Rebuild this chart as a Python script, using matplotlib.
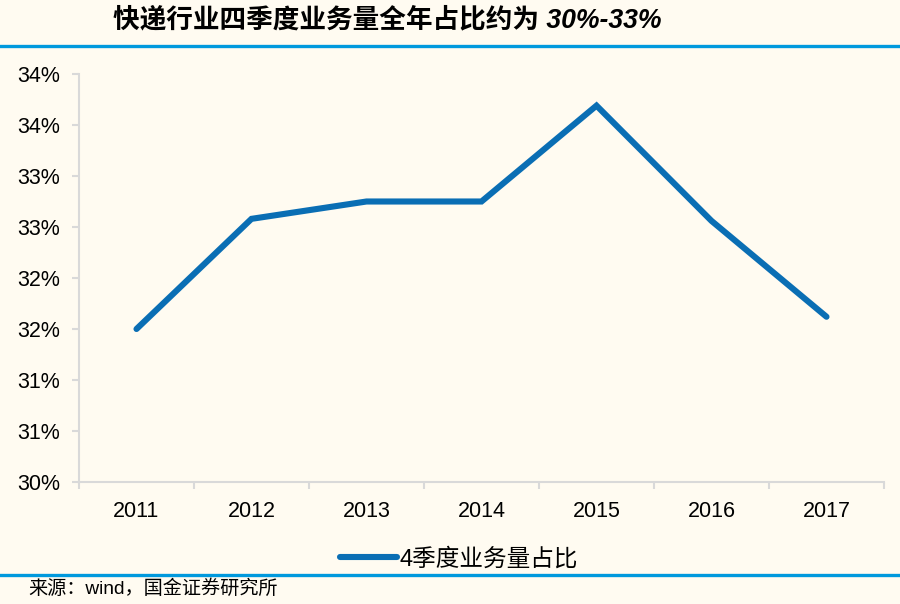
import matplotlib
matplotlib.use("Agg")
import matplotlib.pyplot as plt
import numpy as np

years = ["2011", "2012", "2013", "2014", "2015", "2016", "2017"]
share = [31.50, 32.58, 32.75, 32.75, 33.69, 32.56, 31.62]
y_ticks = [30.0, 30.5, 31.0, 31.5, 32.0, 32.5, 33.0, 33.5, 34.0]
y_tick_labels = ["30%", "31%", "31%", "32%", "32%", "33%", "33%", "34%", "34%"]
title = "快递行业四季度业务量全年占比约为 30%-33%"
series_name = "4季度业务量占比"
source = "来源：wind，国金证券研究所"

BG = "#FFFBF1"
LINE = "#0A6EB4"
RULE = "#0099DD"
SPINE = "#D9D9D9"
FAM = ["Liberation Sans", "Noto Sans CJK SC", "DejaVu Sans"]
plt.rcParams["font.family"] = FAM

fig = plt.figure(figsize=(9, 6.04), dpi=100, facecolor=BG)
ax = fig.add_axes([79/900, 1-482/604, (884-79)/900, (482-74)/604])
ax.set_facecolor(BG)

x = np.arange(len(years))
ax.plot(x, share, color=LINE, lw=4.4, solid_capstyle="round",
        solid_joinstyle="miter", label=series_name)

ax.set_xlim(-0.5, len(years) - 0.5)
ax.set_ylim(30, 34)
ax.set_yticks(y_ticks)
ax.set_yticklabels(y_tick_labels)
ax.set_xticks(np.arange(len(years) + 1) - 0.5)
ax.set_xticklabels([])
ax.set_xticks(x, minor=True)
ax.set_xticklabels(years, minor=True)

for s in ["top", "right"]:
    ax.spines[s].set_visible(False)
for s in ["left", "bottom"]:
    ax.spines[s].set_color(SPINE)
    ax.spines[s].set_linewidth(1.5)

ax.tick_params(axis="y", which="major", length=5, width=1.5, color=SPINE,
               pad=8.5, labelsize=15.5, labelcolor="black")
ax.tick_params(axis="x", which="major", length=5, width=1.5, color=SPINE)
ax.tick_params(axis="x", which="minor", length=0, pad=14, labelsize=15.5,
               labelcolor="black")

# title and rules
fig.text(113/900, 1-20/604, title, fontsize=19.2, fontweight="bold",
         fontstyle="italic", ha="left", va="center", color="black", family=FAM)
fig.add_artist(plt.Line2D([0, 1], [1-46/604, 1-46/604], color=RULE, lw=2.4,
                          transform=fig.transFigure))
fig.add_artist(plt.Line2D([0, 1], [1-575/604, 1-575/604], color=RULE, lw=2.4,
                          transform=fig.transFigure))

leg = fig.legend(loc="center", bbox_to_anchor=(459/900, 1-559/604),
                 frameon=False, handlelength=2.45, handletextpad=0.1,
                 prop={"family": FAM, "size": 17})

fig.text(28/900, 1-589/604, source, fontsize=13.8, ha="left", va="center",
         color="black", family=FAM)

fig.savefig("out.png", dpi=100, facecolor=BG)
